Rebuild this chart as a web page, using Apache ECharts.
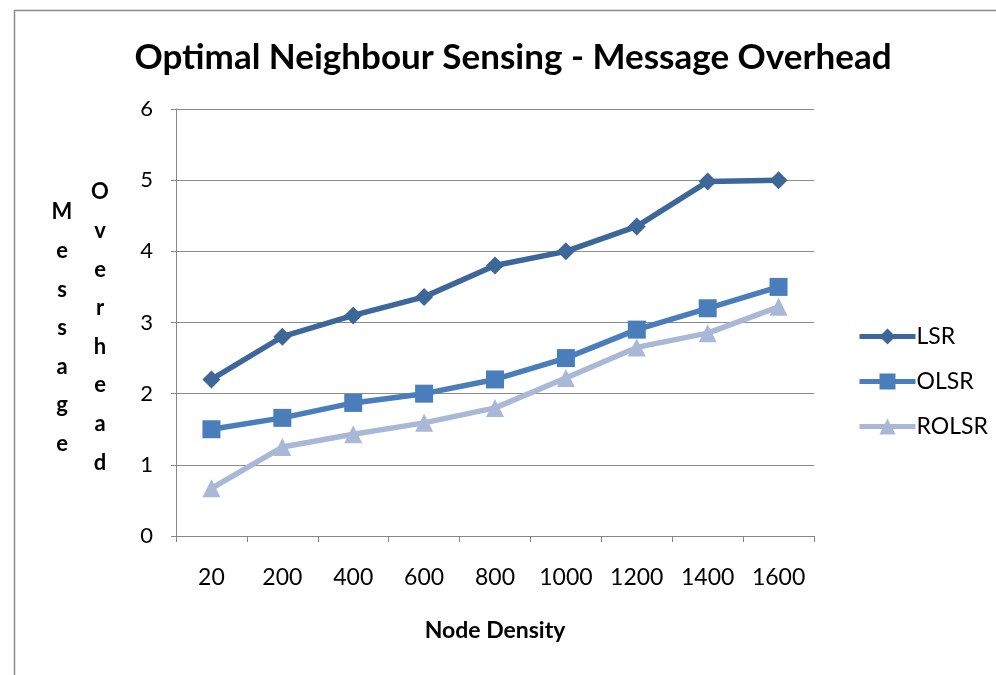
<!DOCTYPE html>
<html>
<head>
<meta charset="utf-8">
<script src="https://cdn.jsdelivr.net/npm/echarts@6/dist/echarts.min.js"></script>
<style>
  html, body { margin: 0; padding: 0; background: #fff; }
  #chart { width: 996px; height: 675px; }
</style>
</head>
<body>
<div id="chart"></div>
<script>
// Node density categories along the x axis
const categories = ['20', '200', '400', '600', '800', '1000', '1200', '1400', '1600'];

// Message overhead per routing protocol
const lsr   = [2.2, 2.8, 3.1, 3.36, 3.8, 4.0, 4.35, 4.98, 5.0];
const olsr  = [1.5, 1.66, 1.87, 2.0, 2.2, 2.5, 2.9, 3.2, 3.5];
const rolsr = [0.67, 1.25, 1.43, 1.59, 1.8, 2.22, 2.65, 2.85, 3.22];

const seriesNames = ['LSR', 'OLSR', 'ROLSR'];
const yTicks = [0, 1, 2, 3, 4, 5, 6];

const FONT = 'Lato, "Open Sans", sans-serif';
const chart = echarts.init(document.getElementById('chart'), null, { renderer: 'canvas' });

// Stack the letters of a word one per line
function stacked(word) { return word.split('').join('\n'); }

const option = {
  animation: false,
  backgroundColor: '#ffffff',
  title: {
    text: 'Optimal Neighbour Sensing - Message Overhead',
    left: 508, top: 35,
    textAlign: 'center',
    textStyle: { fontFamily: FONT, fontWeight: 'bold', fontSize: 35, color: '#000' }
  },
  legend: {
    orient: 'vertical',
    left: 852, top: 320,
    itemWidth: 56, itemHeight: 20,
    itemGap: 22,
    data: seriesNames,
    lineStyle: { width: 5 },
    textStyle: { fontFamily: FONT, fontSize: 23, color: '#000', padding: [0, 0, 0, -4] }
  },
  grid: { left: 176, right: 182, top: 109, bottom: 139, containLabel: false },
  xAxis: {
    type: 'category',
    data: categories,
    boundaryGap: true,
    name: 'Node Density',
    nameLocation: 'middle',
    nameGap: 83,
    nameTextStyle: { fontFamily: FONT, fontWeight: 'bold', fontSize: 23, color: '#000' },
    axisLine: { lineStyle: { color: '#868686', width: 1 } },
    axisTick: { show: true, length: 6, inside: false, alignWithLabel: false, lineStyle: { color: '#868686' } },
    axisLabel: { fontFamily: FONT, fontSize: 23, color: '#000', margin: 30 }
  },
  yAxis: {
    type: 'value',
    min: yTicks[0], max: yTicks[yTicks.length - 1], interval: 1,
    axisLine: { show: true, lineStyle: { color: '#868686', width: 1 } },
    axisTick: { show: true, length: 5, lineStyle: { color: '#868686' } },
    axisLabel: { fontFamily: FONT, fontSize: 22, color: '#000', margin: 23 },
    splitLine: { show: true, lineStyle: { color: '#8c8c8c', width: 1 } }
  },
  graphic: [
    {
      type: 'rect', left: 12, top: 8, silent: true,
      shape: { width: 990, height: 700 },
      style: { fill: 'none', stroke: '#8a8a8a', lineWidth: 1.5 }
    },
    {
      type: 'text', x: 62, y: 193,
      style: {
        text: stacked('Message'), font: 'bold 22px ' + FONT,
        fill: '#000', lineHeight: 38.6, align: 'center', verticalAlign: 'top'
      }
    },
    {
      type: 'text', x: 100, y: 173,
      style: {
        text: stacked('Overhead'), font: 'bold 22px ' + FONT,
        fill: '#000', lineHeight: 38.6, align: 'center', verticalAlign: 'top'
      }
    }
  ],
  series: [
    {
      name: seriesNames[0], type: 'line', data: lsr,
      symbol: 'diamond', symbolSize: 18,
      lineStyle: { color: '#3d6699', width: 5.5 },
      itemStyle: { color: '#3d6699' }
    },
    {
      name: seriesNames[1], type: 'line', data: olsr,
      symbol: 'rect', symbolSize: 18,
      lineStyle: { color: '#4a7ebb', width: 5.5 },
      itemStyle: { color: '#4a7ebb' }
    },
    {
      name: seriesNames[2], type: 'line', data: rolsr,
      symbol: 'triangle', symbolSize: 18,
      lineStyle: { color: '#a9b8d6', width: 5.5 },
      itemStyle: { color: '#a9b8d6' }
    }
  ]
};

chart.setOption(option);
</script>
</body>
</html>
